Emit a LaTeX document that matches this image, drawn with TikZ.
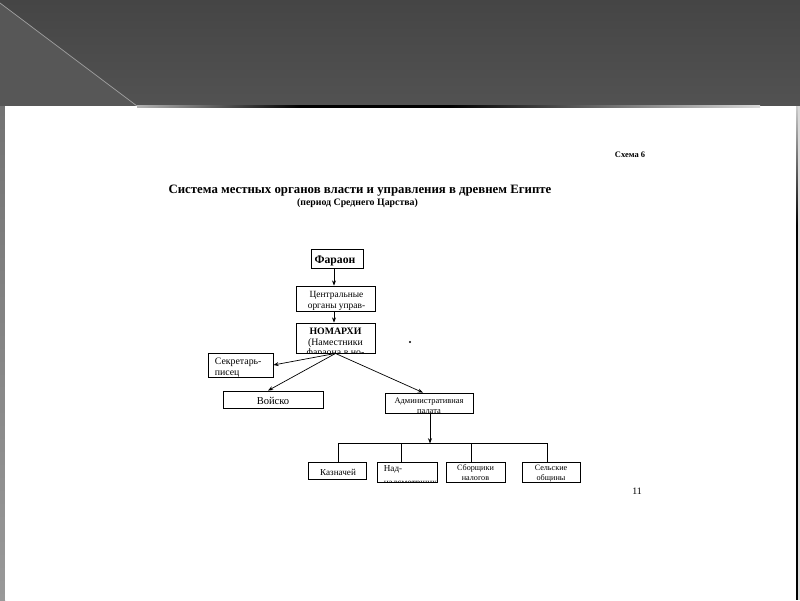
\documentclass[tikz,border=0pt]{standalone}
\usepackage{fontspec}
\setmainfont{Liberation Serif}
\usetikzlibrary{positioning,arrows.meta,calc}

\definecolor{slidetop}{HTML}{454545}
\definecolor{slidebot}{HTML}{525252}
\definecolor{slidetri}{HTML}{575757}
\definecolor{slidediag}{HTML}{A0A0A0}

\begin{document}
\begin{tikzpicture}[
  x=0.025cm, y=-0.025cm,
  >={Stealth[length=1.3mm,width=1.0mm]},
  every node/.style={inner sep=1pt},
  box/.style={draw=black, line width=0.6pt, inner sep=0pt},
  lbl/.style={align=center, inner sep=0pt},
  arr/.style={->, draw=black, line width=0.5pt},
  link/.style={draw=black, line width=0.5pt},
  ttl/.style={font=\bfseries\fontsize{9.1}{11}\selectfont},
  subttl/.style={font=\bfseries\fontsize{7}{8}\selectfont},
  tiny/.style={font=\bfseries\fontsize{6}{7}\selectfont},
  fbig/.style={font=\fontsize{6.7}{7.6}\selectfont},
  fmid/.style={font=\fontsize{7}{7.6}\selectfont},
  fsmall/.style={font=\fontsize{6}{7}\selectfont},
  fmini/.style={font=\fontsize{5.8}{7}\selectfont},
]

%---------- slide background and page ----------
\useasboundingbox (0,0) rectangle (800,600);
\fill[slidebot] (0,0) rectangle (800,600);
\shade[top color=slidetop, bottom color=slidebot] (0,0) rectangle (800,106);
\fill[slidetri] (0,3) -- (137,106) -- (0,106) -- cycle;
\draw[slidediag, line width=0.5pt] (0,3) -- (137,106);
\shade[top color=black!55, bottom color=black!40] (0,106) rectangle (5,600);
\fill[white] (5,106) rectangle (797,600);
\fill[black!15] (797,106) rectangle (800,600);
\shade[top color=black!20, bottom color=black] (796,106) rectangle (797.6,225);
\fill[black] (796,225) rectangle (797.6,600);
\shade[left color=black!30, right color=black] (137,105) rectangle (300,107.5);
\fill[black] (300,105) rectangle (450,107.5);
\shade[left color=black, right color=black!15] (450,105) rectangle (760,107.5);

%---------- headings ----------
\node[tiny] (schemenum) at (630,155) {Схема 6};
\node[ttl] (title) at (360,191) {Система местных органов власти и управления в древнем Египте};
\node[subttl] (subtitle) at (357.5,203) {(период Среднего Царства)};

%---------- upper chain ----------
\node[box, minimum width=1.3cm, minimum height=0.475cm] (pharaoh) at (337,258.5) {};
\node[lbl, font=\bfseries\fontsize{8.3}{9}\selectfont] (pharaohtxt)
  at ($(pharaoh)+(-2,2)$) {Фараон};
\node[box, minimum width=1.975cm, minimum height=0.625cm] (central) at (335.5,298.5) {};
\node[lbl, fbig] (centraltxt) at ($(central)+(1,2.5)$) {Центральные\\органы управ-};
\node[box, minimum width=1.975cm, minimum height=0.75cm] (nom) at (335.5,338) {};
\begin{scope}
  \clip (nom.south west) rectangle (nom.north east);
  \node[fmid, lbl, anchor=north] (nomtxt) at ($(nom.north)+(0,5)$)
    {\textbf{НОМАРХИ}\\(Наместники\\фараона в но-};
\end{scope}

%---------- middle level ----------
\node[box, minimum width=1.625cm, minimum height=0.6cm] (scribe) at (240.5,365) {};
\node[fmid, lbl, align=left, anchor=west] (scribetxt) at ($(scribe.west)+(7,2.5)$)
  {Секретарь-\\писец};
\node[box, minimum width=2.5cm, minimum height=0.425cm] (army) at (273,399.5) {};
\node[lbl, font=\fontsize{7.5}{8}\selectfont] (armytxt) at ($(army)+(0,1)$) {Войско};
\node[box, minimum width=2.2cm, minimum height=0.5cm] (adm) at (429,403) {};
\begin{scope}
  \clip (adm.south west) rectangle (adm.north east);
  \node[fsmall, lbl, anchor=north] (admtxt) at ($(adm.north)+(0,5)$)
    {Административная\\палата};
\end{scope}

%---------- lower row ----------
\node[box, minimum width=1.45cm, minimum height=0.425cm] (treasurer) at (337,470.5) {};
\node[lbl, font=\fontsize{6.5}{7}\selectfont] (treasurertxt) at ($(treasurer)+(1,1.5)$) {Казначей};
\node[box, minimum width=1.5cm, minimum height=0.5cm] (overseer) at (407,472) {};
\node[box, minimum width=1.475cm, minimum height=0.5cm] (collector) at (475.5,472) {};
\node[box, minimum width=1.45cm, minimum height=0.5cm] (village) at (551,472) {};
\begin{scope}
  \clip (overseer.south west) rectangle (overseer.north east);
  \node[font=\fontsize{6.5}{10}\selectfont, lbl, align=left, anchor=north west] (overseertxt)
    at ($(overseer.north west)+(7,4)$) {Над-\\надсмотрщики};
\end{scope}
\begin{scope}
  \clip (collector.south west) rectangle (collector.north east);
  \node[fmini, lbl, anchor=north] (collectortxt) at ($(collector.north)+(0,3)$)
    {Сборщики\\налогов};
\end{scope}
\begin{scope}
  \clip (village.south west) rectangle (village.north east);
  \node[fmini, lbl, anchor=north] (villagetxt) at ($(village.north)+(0,3)$)
    {Сельские\\общины};
\end{scope}

%---------- arrows ----------
\draw[arr] (pharaoh.south -| 334,0) -- (central.north -| 334,0);
\draw[arr] (central.south -| 334,0) -- (nom.north -| 334,0);
\draw[arr] (nom.south) -- (scribe.east);
\draw[arr] (nom.south) -- ($(army.north)+(-5,0)$);
\draw[arr] (nom.south) -- ($(adm.north)+(-6,0)$);
\coordinate (bus) at ($(adm.south)+(1,30)$);
\draw[arr] (adm.south -| bus) -- (bus);
\foreach \b/\dx in {treasurer/1, overseer/-6, collector/-4.5, village/-4}{
  \draw[link] (bus) -| ($(\b.north)+(\dx,0)$);
}

%---------- page marks ----------
\fill (410,342) circle (1.2);
\node[font=\fontsize{7}{8}\selectfont] (pagenum) at (637,491) {11};

\end{tikzpicture}
\end{document}
